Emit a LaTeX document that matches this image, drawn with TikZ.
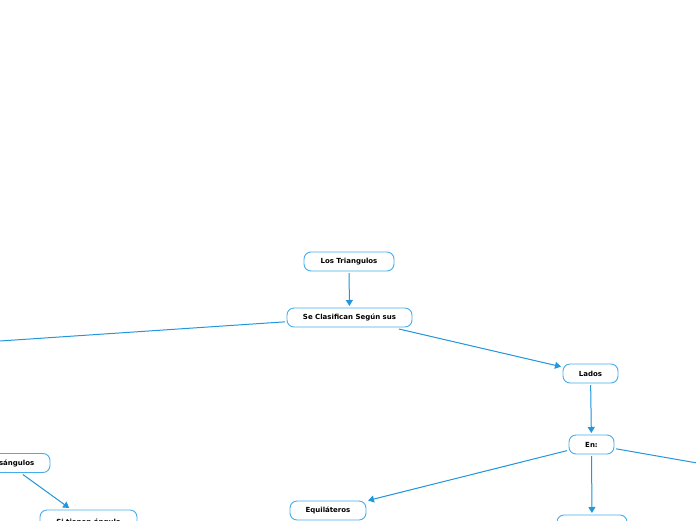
\documentclass[tikz,border=0pt]{standalone}
\usepackage{fontspec}
\setmainfont{DejaVu Sans}
\usepackage{xcolor}
\usepackage{tikz}
\usetikzlibrary{arrows.meta, positioning}

\definecolor{mapblue}{RGB}{35,150,220}
\definecolor{boxblue}{RGB}{70,172,235}

\begin{document}
\begin{tikzpicture}[
  x=1pt, y=-1pt,
  box/.style={rectangle, rounded corners=7pt, draw=boxblue, fill=white,
              line width=0.9pt, minimum height=19pt, inner sep=0pt, outer sep=2pt,
              font=\fontsize{7}{8.4}\selectfont\bfseries, align=center},
  arr/.style={-{Triangle[length=6pt,width=7pt]}, draw=mapblue, fill=mapblue, line width=1pt},
  lin/.style={draw=mapblue, line width=1pt}
]
\clip (0,0) rectangle (696,520);

\node[box, minimum width=90pt]  (tri)    at (349,261.5) {Los Triangulos};
\node[box, minimum width=125pt] (clasif) at (349.5,317.5) {Se Clasifican Según sus};
\node[box, minimum width=55pt]  (lados)  at (590.5,373.5) {Lados};
\node[box, minimum width=45pt]  (en)     at (591.5,444.5) {En:};
\node[box, minimum width=76pt]  (equi)   at (328,510.5) {Equiláteros};
\node[box, minimum width=70pt, anchor=north] (iso) at (592,513) {};
\node[box, minimum width=86pt]  (obtus)  at (7,463) {Obtusángulos};
\node[box, minimum width=97pt, minimum height=24pt, anchor=north] (recto) at (88.5,508) {Si tienen ángulo};

% free ends leave the picture
\coordinate (angEnd) at (-30,343);
\coordinate (escEnd) at (720,467);

\draw[arr] (tri)    -- (clasif);
\draw[arr] (clasif) -- (lados);
\draw[lin] (clasif) -- (angEnd);
\draw[arr] (lados)  -- (en);
\draw[arr] (en)     -- (equi);
\draw[arr] (en)     -- (iso);
\draw[lin] (en)     -- (escEnd);
\draw[arr] (obtus)  -- (recto);
\end{tikzpicture}
\end{document}
